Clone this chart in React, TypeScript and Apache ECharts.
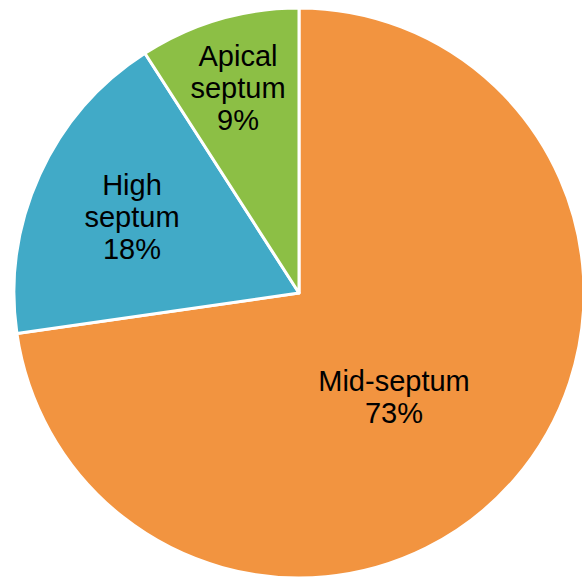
import React, { useEffect, useRef } from "react";
import * as echarts from "echarts";

const categories = ["Mid-septum", "High septum", "Apical septum"];
const values = [8, 2, 1];
const labelLines = [["Mid-septum"], ["High", "septum"], ["Apical", "septum"]];
const colors = ["#F29440", "#41AAC7", "#8CBF45"];
// label block centres (pixels)
const labelCenters = [
  [394, 397],
  [132, 217],
  [238, 88],
];

export default function App() {
  const ref = useRef<HTMLDivElement>(null);
  useEffect(() => {
    if (!ref.current) return;
    const chart = echarts.init(ref.current, undefined, { renderer: "svg" });
    chart.setOption({
      animation: false,
      backgroundColor: "#ffffff",
      series: [
        {
          type: "pie",
          center: [299, 293],
          radius: [0, 285],
          startAngle: 90,
          clockwise: true,
          avoidLabelOverlap: false,
          silent: true,
          itemStyle: { borderColor: "#ffffff", borderWidth: 3 },
          label: {
            show: true,
            position: "inside",
            color: "#000000",
            fontSize: 29,
            lineHeight: 32,
            fontFamily: "Liberation Sans, Arial, sans-serif",
            align: "center",
            formatter: (p: any) =>
              [...labelLines[p.dataIndex], Math.round(p.percent) + "%"].join("\n"),
          },
          labelLine: { show: false },
          labelLayout: (p: any) => ({
            x: labelCenters[p.dataIndex][0],
            y: labelCenters[p.dataIndex][1],
            align: "center",
            verticalAlign: "middle",
          }),
          data: categories.map((c, i) => ({
            name: c,
            value: values[i],
            itemStyle: { color: colors[i] },
          })),
        },
      ],
    });
    return () => chart.dispose();
  }, []);
  return (
    <div
      ref={ref}
      style={{ position: "absolute", left: 0, top: 0, width: 582, height: 578 }}
    />
  );
}
